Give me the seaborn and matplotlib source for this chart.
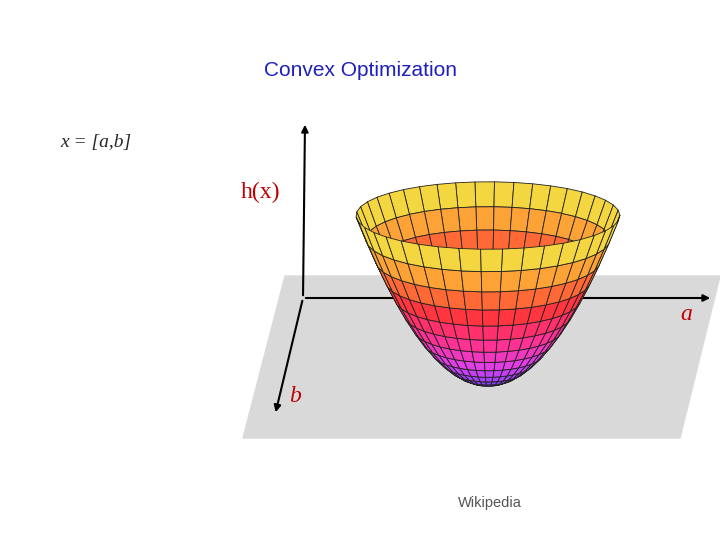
import numpy as np
import matplotlib
matplotlib.use("Agg")
import matplotlib.pyplot as plt
import seaborn as sns
from matplotlib.colors import LinearSegmentedColormap
from matplotlib.patches import Polygon

sns.set_style("white")
plt.rcParams['font.family'] = ['Liberation Sans', 'DejaVu Sans']

title = "Convex Optimization"
radii = np.linspace(0, 1, 15)
angles = np.linspace(0, 2*np.pi, 41)
colors = ["#7040ff", "#e040f0", "#ff3090", "#ff3040", "#ff8030", "#f8d040", "#e0f040"]

fig = plt.figure(figsize=(7.2, 5.4), dpi=100)
bg = fig.add_axes([0, 0, 1, 1])
bg.set_xlim(0, 720); bg.set_ylim(540, 0); bg.axis("off")
bg.add_patch(Polygon([[285, 276], [720, 276], [680, 438], [243, 438]], closed=True, color="#d9d9d9", zorder=0))
bg.annotate("", xy=(305, 122), xytext=(303, 298), arrowprops=dict(arrowstyle="-|>", color="black", lw=1.5))
bg.annotate("", xy=(713, 298), xytext=(303, 298), arrowprops=dict(arrowstyle="-|>", color="black", lw=1.5))
bg.annotate("", xy=(275, 415), xytext=(303, 298), arrowprops=dict(arrowstyle="-|>", color="black", lw=1.5))
bg.text(360, 70, title, color="#1f1fbf", fontsize=15, ha="center", va="center")
bg.text(60, 142, "x = [a,b]", fontsize=14, style="italic", family=["Liberation Serif"], va="center")
bg.text(260, 192, "h(x)", fontsize=17, color="#c00000", family=["Liberation Serif"], ha="center", va="center")
bg.text(686, 314, "a", fontsize=17, color="#c00000", style="italic", family=["Liberation Serif"], ha="center", va="center")
bg.text(295, 396, "b", fontsize=17, color="#c00000", style="italic", family=["Liberation Serif"], ha="center", va="center")
bg.text(490, 503, "Wikipedia", fontsize=10.5, color="#555555", ha="center", va="center")

cmap = LinearSegmentedColormap.from_list("bowl", colors)
R, T = np.meshgrid(radii, angles)
X = R*np.cos(T); Y = R*np.sin(T); Z = R**2
ax = fig.add_axes([0.29, 0.055, 0.76, 0.76], projection="3d")
ax.plot_surface(X, Y, Z, facecolors=cmap(Z), edgecolor="#222222", linewidth=0.6, shade=False, rstride=1, cstride=1)
ax.view_init(elev=17, azim=-60)
ax.set_box_aspect((1, 1, 0.62), zoom=1.09)
ax.axis("off")
ax.patch.set_alpha(0)
fig.savefig("out.png", dpi=100)
